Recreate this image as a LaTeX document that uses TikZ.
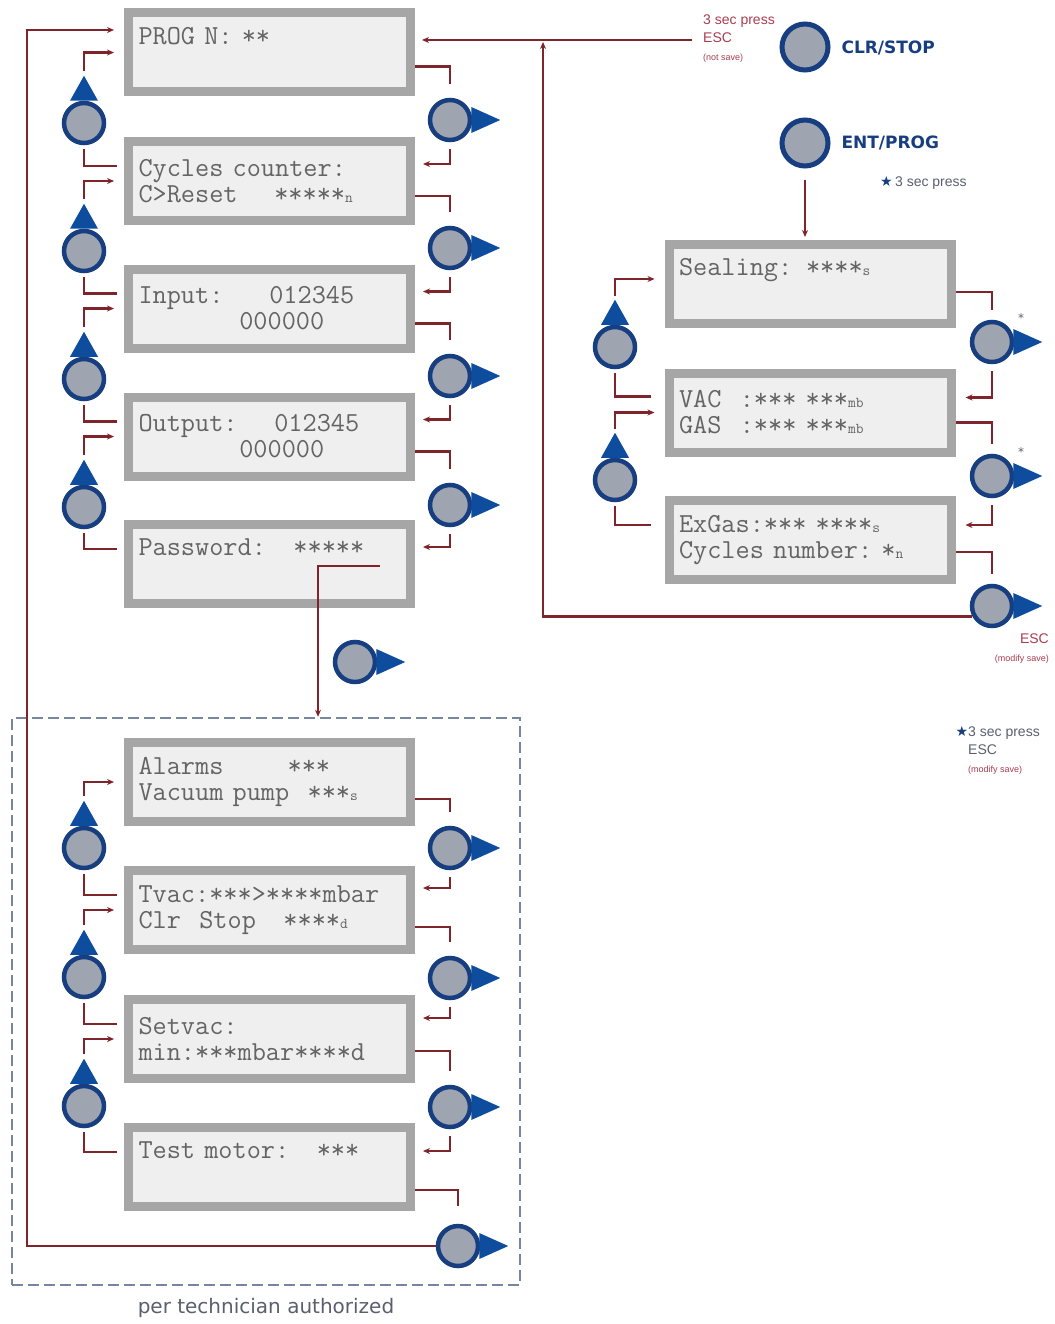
\documentclass[tikz,border=0pt]{standalone}
\usepackage{fontspec}
\setmainfont{DejaVu Sans}
\newfontfamily\notefont{Liberation Sans}
\usetikzlibrary{arrows.meta}

\definecolor{flowred}{RGB}{126,36,42}
\definecolor{btnring}{RGB}{22,62,128}
\definecolor{btnarrow}{RGB}{14,76,158}
\definecolor{btngray}{RGB}{158,164,176}
\definecolor{lcdframe}{RGB}{166,166,166}
\definecolor{lcdfill}{RGB}{239,239,239}
\definecolor{lcdtext}{RGB}{100,100,100}
\definecolor{dashblue}{RGB}{118,134,160}
\definecolor{notered}{RGB}{170,60,80}
\definecolor{notegray}{RGB}{90,95,110}

\newcommand\lcdsub[1]{{\fontsize{15}{15}\selectfont #1}}

\begin{document}
\begin{tikzpicture}[x=1pt,y=-1pt,>={Stealth[length=7pt,width=6pt]}]
    \tikzstyle{lcd}=[draw=lcdframe,fill=lcdfill,line width=9pt,minimum width=282pt,minimum height=79pt,text width=262pt,inner xsep=10pt,align=left,text=lcdtext,font=\ttfamily\fontsize{27.5}{26}\selectfont]
    \tikzstyle{btn}=[circle,draw=btnring,fill=btngray,line width=4.5pt,minimum size=40pt,inner sep=0pt]
    \tikzstyle{bigbtn}=[btn,line width=5pt,minimum size=46pt]
    \tikzstyle{flow}=[draw=flowred,line width=2.8pt]
    \tikzstyle{note}=[inner sep=0pt,font=\notefont\fontsize{14}{18}\selectfont]

    \useasboundingbox (0,0) rectangle (1054,1324);

    % main menu
    \node[lcd] at (269.5,52.5) (prog) {PROG N: **\\\strut};
    \node[lcd] at (269.5,181) (cyc) {Cycles counter:\\C>Reset~~~~*****\lcdsub{n}};
    \node[lcd] at (269.5,308.5) (inp) {Input:~~~~~012345\\~~~~~~~~~~~000000};
    \node[lcd] at (269.5,436.5) (outp) {Output:~~~~012345\\~~~~~~~~~~~000000};
    \node[lcd] at (269.5,564) (pwd) {Password:~~~*****\\\strut};

    % technician menu
    \node[draw=dashblue,line width=2.5pt,dash pattern=on 11pt off 5pt,minimum width=508pt,minimum height=567pt] at (266,1001.5) (tech) {};
    \node[lcd] at (269.5,782) (alarm) {Alarms~~~~~~~***\\Vacuum pump~~***\lcdsub{s}};
    \node[lcd] at (269.5,910) (tvac) {Tvac:***>****mbar\\Clr~~Stop~~~****\lcdsub{d}};
    \node[lcd] at (269.5,1039) (setvac) {Setvac:\\min:***mbar****d};
    \node[lcd] at (269.5,1167) (testm) {Test motor:~~~***\\\strut};
    \node[text=notegray,inner sep=0pt,font=\fontsize{20}{20}\selectfont] at (266,1308) (techlbl) {per technician authorized};

    % settings menu
    \node[lcd] at (810,284) (seal) {Sealing: ****\lcdsub{s}\\\strut};
    \node[lcd] at (810,412.5) (vac) {VAC~~:***~***\lcdsub{mb}\\GAS~~:***~***\lcdsub{mb}};
    \node[lcd] at (810,540) (exgas) {ExGas:***~****\lcdsub{s}\\Cycles number:~*\lcdsub{n}};

    % buttons
    \node[btn] at (84,123) (up1) {};
    \node[btn] at (84,251) (up2) {};
    \node[btn] at (84,379) (up3) {};
    \node[btn] at (84,507) (up4) {};
    \node[btn] at (84,848) (up5) {};
    \node[btn] at (84,977) (up6) {};
    \node[btn] at (84,1106) (up7) {};
    \node[btn] at (450,120) (nx1) {};
    \node[btn] at (450,248) (nx2) {};
    \node[btn] at (450,376) (nx3) {};
    \node[btn] at (450,505) (nx4) {};
    \node[btn] at (355,662) (pw) {};
    \node[btn] at (450,848) (nx5) {};
    \node[btn] at (450,978) (nx6) {};
    \node[btn] at (450,1107) (nx7) {};
    \node[btn] at (458,1246) (nx8) {};
    \node[btn] at (615,347) (sup1) {};
    \node[btn] at (615,480) (sup2) {};
    \node[btn] at (992,342) (snx1) {};
    \node[btn] at (992,476) (snx2) {};
    \node[btn] at (992,606) (snx3) {};
    \node[bigbtn] at (805,47) (clr) {};
    \node[bigbtn] at (805,143) (ent) {};

    \foreach \b in {up1,up2,up3,up4,up5,up6,up7,sup1,sup2}
        \fill[btnarrow] (\b.north) ++(-14,0) -- ++(14,-25) -- ++(14,25) -- cycle;
    \foreach \b in {nx1,nx2,nx3,nx4,pw,nx5,nx6,nx7,nx8,snx1,snx2,snx3}
        \fill[btnarrow] ([xshift=-1pt]\b.east) ++(0,-13) -- ++(29,13) -- ++(-29,13) -- cycle;

    \node[text=notegray,font=\fontsize{12}{12}\selectfont] at (1021,318) (ast1) {*};
    \node[text=notegray,font=\fontsize{12}{12}\selectfont] at (1021,452) (ast2) {*};

    % labels
    \node[anchor=west,text=btnring,font=\bfseries\fontsize{17}{17}\selectfont] at (838,48) (clrlbl) {CLR/STOP};
    \node[anchor=west,text=btnring,font=\bfseries\fontsize{17}{17}\selectfont] at (838,143) (entlbl) {ENT/PROG};
    \node[note,anchor=west,text=notegray] at (880,183) (entnote) {\textcolor{btnring}{\fontspec{DejaVu Sans}★}\,3 sec press};
    \node[note,anchor=north west,align=left,text=notered] at (703,15) (clrnote) {3 sec press\\ESC\\{\fontsize{9}{12}\selectfont(not save)}};
    \node[note,anchor=north east,align=right,text=notered] at (1049,634) (escnote) {ESC\\{\fontsize{9}{12}\selectfont(modify save)}};
    \node[note,anchor=north west,align=left,text=notegray] at (968,726) (starnote) {\llap{\textcolor{btnring}{\fontspec{DejaVu Sans}★}}3 sec press\\ESC\\{\fontsize{9}{12}\selectfont\textcolor{notered}{(modify save)}}};

    % up key: box below -> button -> box above
    \draw[flow,shorten <=7pt,shorten >=4pt] ([yshift=15pt]cyc.west) -| (up1.south);
    \draw[flow,->,shorten <=30pt,shorten >=10pt] (up1.north) |- (prog.west);
    \draw[flow,shorten <=7pt,shorten >=4pt] ([yshift=15pt]inp.west) -| (up2.south);
    \draw[flow,->,shorten <=30pt,shorten >=10pt] (up2.north) |- (cyc.west);
    \draw[flow,shorten <=7pt,shorten >=4pt] ([yshift=15pt]outp.west) -| (up3.south);
    \draw[flow,->,shorten <=30pt,shorten >=10pt] (up3.north) |- (inp.west);
    \draw[flow,shorten <=7pt,shorten >=4pt] ([yshift=15pt]pwd.west) -| (up4.south);
    \draw[flow,->,shorten <=30pt,shorten >=10pt] (up4.north) |- (outp.west);
    \draw[flow,shorten <=7pt,shorten >=4pt] ([yshift=15pt]tvac.west) -| (up5.south);
    \draw[flow,->,shorten <=30pt,shorten >=10pt] (up5.north) |- (alarm.west);
    \draw[flow,shorten <=7pt,shorten >=4pt] ([yshift=15pt]setvac.west) -| (up6.south);
    \draw[flow,->,shorten <=30pt,shorten >=10pt] (up6.north) |- (tvac.west);
    \draw[flow,shorten <=7pt,shorten >=4pt] ([yshift=15pt]testm.west) -| (up7.south);
    \draw[flow,->,shorten <=30pt,shorten >=10pt] (up7.north) |- (setvac.west);
    \draw[flow,shorten <=14pt,shorten >=4pt] ([yshift=16pt]vac.west) -| (sup1.south);
    \draw[flow,->,shorten <=29pt,shorten >=10pt] (sup1.north) |- ([yshift=5pt]seal.west);
    \draw[flow,shorten <=14pt,shorten >=4pt] ([yshift=15pt]exgas.west) -| (sup2.south);
    \draw[flow,->,shorten <=29pt,shorten >=10pt] (sup2.north) |- (vac.west);

    % next key: box above -> button -> box below
    \draw[flow,shorten >=14pt] ([yshift=-14pt]prog.east) -| (nx1.north);
    \draw[flow,->,shorten <=7pt,shorten >=8pt] (nx1.south) |- ([yshift=17pt]cyc.east);
    \draw[flow,shorten >=14pt] ([yshift=-15pt]cyc.east) -| (nx2.north);
    \draw[flow,->,shorten <=7pt,shorten >=8pt] (nx2.south) |- ([yshift=17pt]inp.east);
    \draw[flow,shorten >=14pt] ([yshift=-15pt]inp.east) -| (nx3.north);
    \draw[flow,->,shorten <=7pt,shorten >=8pt] (nx3.south) |- ([yshift=17pt]outp.east);
    \draw[flow,shorten >=14pt] ([yshift=-15pt]outp.east) -| (nx4.north);
    \draw[flow,->,shorten <=7pt,shorten >=8pt] (nx4.south) |- ([yshift=17pt]pwd.east);
    \draw[flow,shorten >=14pt] ([yshift=-17pt]alarm.east) -| (nx5.north);
    \draw[flow,->,shorten <=7pt,shorten >=8pt] (nx5.south) |- ([yshift=22pt]tvac.east);
    \draw[flow,shorten >=14pt] ([yshift=-17pt]tvac.east) -| (nx6.north);
    \draw[flow,->,shorten <=7pt,shorten >=8pt] (nx6.south) |- ([yshift=21pt]setvac.east);
    \draw[flow,shorten >=14pt] ([yshift=-12pt]setvac.east) -| (nx7.north);
    \draw[flow,->,shorten <=7pt,shorten >=8pt] (nx7.south) |- ([yshift=16pt]testm.east);
    \draw[flow,shorten >=18pt] ([yshift=-23pt]testm.east) -| (nx8.north);
    \draw[flow,shorten >=10pt] ([yshift=-8pt]seal.east) -| (snx1.north);
    \draw[flow,->,shorten <=7pt,shorten >=10pt] (snx1.south) |- ([yshift=15pt]vac.east);
    \draw[flow,shorten >=10pt] ([yshift=-10pt]vac.east) -| (snx2.north);
    \draw[flow,->,shorten <=7pt,shorten >=10pt] (snx2.south) |- ([yshift=15pt]exgas.east);
    \draw[flow,shorten >=10pt] ([yshift=-12pt]exgas.east) -| (snx3.north);

    % password -> technician menu
    \coordinate (pwA) at (380,566);
    \draw[flow,->] (pwA) -| ([xshift=52pt]tech.north);

    % return to PROG N
    \coordinate (loopc) at (27,30);
    \draw[flow,->,shorten >=10pt] (nx8.west) -| (loopc) -- (loopc -| prog.west);
    \coordinate (escA) at (692,40);
    \draw[flow,->,shorten >=7pt] (escA) -- (escA -| prog.east);
    \coordinate (escB) at (543,42);
    \draw[flow,->] (snx3.208) -| (escB);
    \draw[flow,->,shorten <=12pt,shorten >=3pt] (ent.south) -- (ent.south |- seal.north);
\end{tikzpicture}
\end{document}
